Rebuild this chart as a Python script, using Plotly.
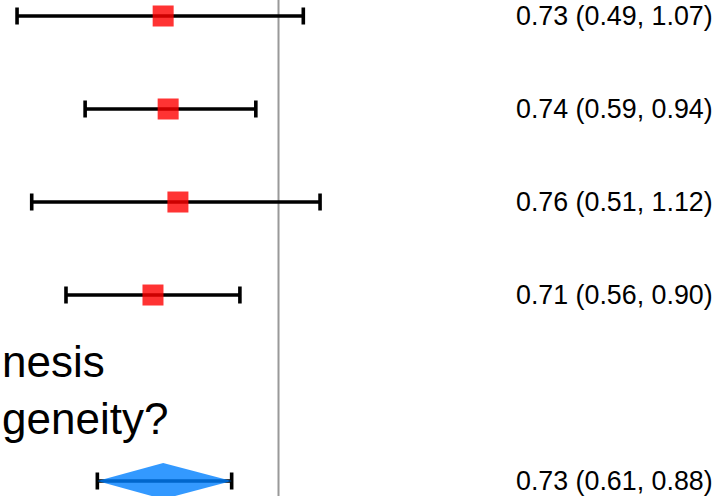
import plotly.graph_objects as go

# Study rows
rows = [1, 2, 3, 4]
est = [0.73, 0.74, 0.76, 0.71]
lo = [0.49, 0.59, 0.51, 0.56]
hi = [1.07, 0.94, 1.12, 0.90]
labels = ["0.73 (0.49, 1.07)", "0.74 (0.59, 0.94)", "0.76 (0.51, 1.12)", "0.71 (0.56, 0.90)"]

# Pooled estimate
pooled_row = 6
pooled_est = 0.73
pooled_lo = 0.61
pooled_hi = 0.88
pooled_label = "0.73 (0.61, 0.88)"

# Partially visible heading text
heading_lines = ["nesis", "geneity?"]
heading_rows = [4.72, 5.33]

FONT = "Arial, 'Liberation Sans', sans-serif"
W, H = 720, 496

fig = go.Figure()

# Study estimates with CIs
fig.add_trace(go.Scatter(
    x=est, y=rows, mode="markers",
    marker=dict(symbol="square", size=21, color="rgba(255,0,0,0.8)", line=dict(width=0)),
    error_x=dict(type="data", symmetric=False,
                 array=[h - e for h, e in zip(hi, est)],
                 arrayminus=[e - l for e, l in zip(est, lo)],
                 color="black", thickness=3.6, width=8.5),
    showlegend=False, hoverinfo="skip",
))

# Pooled CI line
fig.add_trace(go.Scatter(
    x=[pooled_est], y=[pooled_row], mode="markers",
    marker=dict(size=1, color="rgba(0,0,0,0)"),
    error_x=dict(type="data", symmetric=False,
                 array=[pooled_hi - pooled_est], arrayminus=[pooled_est - pooled_lo],
                 color="black", thickness=3.6, width=8.5),
    showlegend=False, hoverinfo="skip",
))

# Pooled diamond
dh = 0.195
fig.add_trace(go.Scatter(
    x=[pooled_lo, pooled_est, pooled_hi, pooled_est, pooled_lo],
    y=[pooled_row, pooled_row - dh, pooled_row, pooled_row + dh, pooled_row],
    mode="lines", fill="toself", fillcolor="rgba(0,128,255,0.8)",
    line=dict(width=0), showlegend=False, hoverinfo="skip",
))

# Null line at 1
fig.add_shape(type="line", xref="x", yref="paper", x0=1, x1=1, y0=0, y1=1,
              line=dict(color="#999999", width=2), layer="below")

# Right-hand text
for r, t in zip(rows + [pooled_row], labels + [pooled_label]):
    fig.add_annotation(x=715 / W, xref="paper", xanchor="right", y=r, yref="y",
                       yanchor="middle", text=t, showarrow=False,
                       font=dict(family=FONT, size=26.8, color="black"))

# Heading fragments
for t, r in zip(heading_lines, heading_rows):
    fig.add_annotation(x=0, xref="paper", xanchor="left", y=r, yref="y",
                       yanchor="middle", text=t, showarrow=False,
                       font=dict(family=FONT, size=44, color="black"))

fig.update_layout(
    width=W, height=H, margin=dict(l=0, r=0, t=0, b=0),
    paper_bgcolor="white", plot_bgcolor="white",
    xaxis=dict(type="log", range=[-0.33, 0.5231], visible=False, showgrid=False, zeroline=False),
    yaxis=dict(range=[6.161, 0.828], visible=False, showgrid=False, zeroline=False),
    showlegend=False,
)

fig.write_html("out.html")
